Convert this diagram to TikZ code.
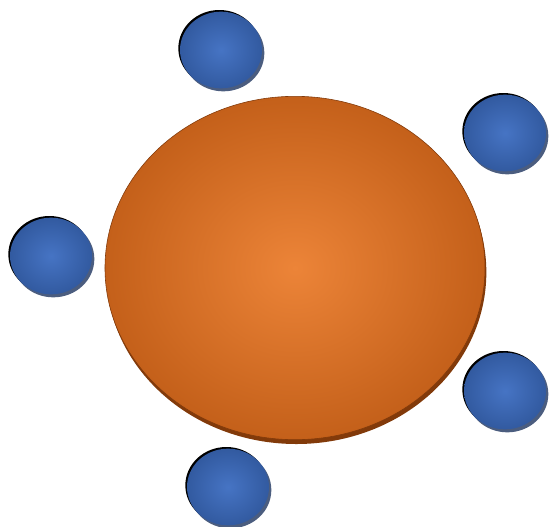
\documentclass[tikz,border=0pt]{standalone}
\usepackage{tikz}
\usetikzlibrary{positioning,shapes.geometric,shadows}
\definecolor{HubCore}{RGB}{236,132,56}
\definecolor{HubRim}{RGB}{196,96,26}
\definecolor{HubShade}{RGB}{130,58,10}
\definecolor{SatCore}{RGB}{70,116,196}
\definecolor{SatRim}{RGB}{50,90,160}
\definecolor{SatShade}{RGB}{30,52,95}
\tikzset{
  hub/.style={ellipse,draw=HubShade,line width=0.5pt,inner color=HubCore,outer color=HubRim,
    minimum width=11.4cm,minimum height=10.3cm,
    general shadow={fill=HubShade,shadow xshift=0.04cm,shadow yshift=-0.13cm}},
  sat/.style={ellipse,inner color=SatCore,outer color=SatRim,
    minimum width=2.46cm,minimum height=2.3cm,
    general shadow={fill=black,shadow xshift=-0.05cm,shadow yshift=0.05cm},
    general shadow={fill=SatShade,opacity=0.8,shadow xshift=0.07cm,shadow yshift=-0.09cm}},
}

\begin{document}
\begin{tikzpicture}[x=0.03cm,y=-0.03cm]
\useasboundingbox (0,0) rectangle (553,527);
\node[hub] (core) at (295,268) {};
\node[sat] (s1) at (221,50) {};
\node[sat] (s2) at (505,133) {};
\node[sat] (s3) at (51,256) {};
\node[sat] (s4) at (505,391) {};
\node[sat] (s5) at (228,487) {};
\end{tikzpicture}
\end{document}
